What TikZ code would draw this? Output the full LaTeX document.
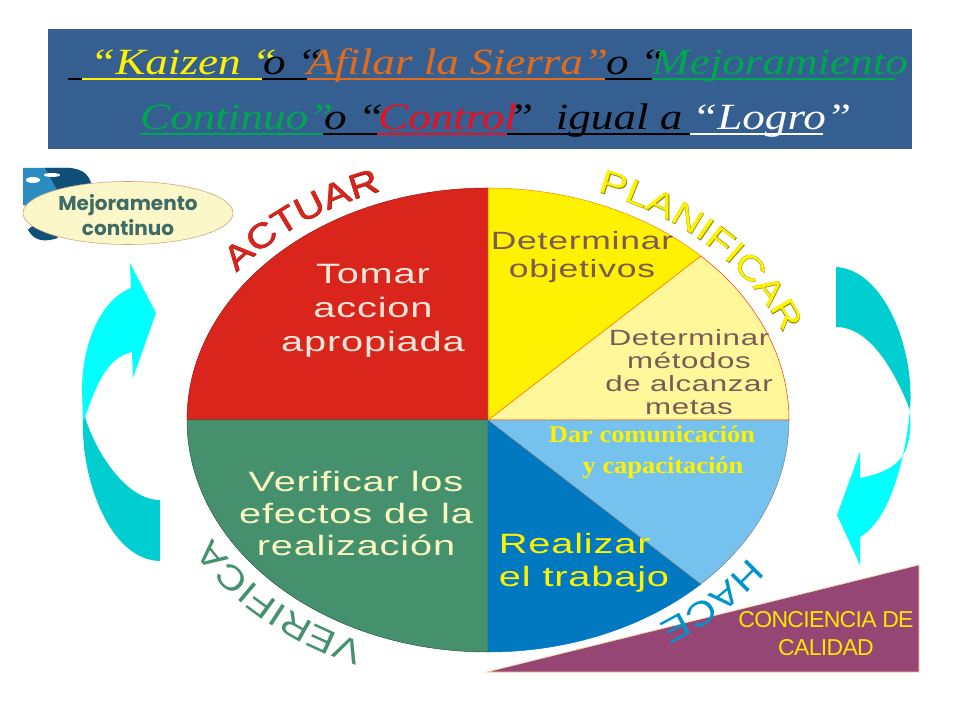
\documentclass[tikz,border=0pt]{standalone}
\usepackage{fontspec}
\usetikzlibrary{decorations.text}
\setmainfont{Liberation Sans}
\newfontfamily\widefont[FakeStretch=1.42,LetterSpace=3]{Liberation Sans}
\newfontfamily\curvefont[FakeStretch=1.2]{Liberation Sans}
\newfontfamily\curvebold[FakeStretch=1.2,FakeBold=1.2]{Liberation Sans}
\newfontfamily\titlefont[FakeStretch=1.22]{Liberation Serif}
\newfontfamily\darfont[FakeStretch=1.1]{Liberation Serif}
\newfontfamily\badgefont{Poppins}
\definecolor{titleblue}{HTML}{365F91}
\definecolor{ctgreen}{HTML}{00A650}
\definecolor{ctorange}{HTML}{E36C1A}
\definecolor{ctred}{HTML}{E8101E}
\definecolor{pierd}{HTML}{DA251C}
\definecolor{pieyl}{HTML}{FFF200}
\definecolor{pielt}{HTML}{FFF799}
\definecolor{piesky}{HTML}{75C2EE}
\definecolor{piebl}{HTML}{0079C1}
\definecolor{piegn}{HTML}{45916D}
\definecolor{txtbrown}{HTML}{7B5A58}
\definecolor{txtcream}{HTML}{F2E6D8}
\definecolor{txtpale}{HTML}{FBF7C0}
\definecolor{badgefill}{HTML}{FCF7C8}
\definecolor{badgetxt}{HTML}{3E6B66}
\definecolor{arrowcy}{HTML}{00FFFF}
\definecolor{arrowdk}{HTML}{00CED1}
\definecolor{tripurple}{HTML}{954674}
\definecolor{triyl}{HTML}{FFE600}
\definecolor{globedk}{HTML}{0F4F78}
\definecolor{globelt}{HTML}{2A8CC0}
\tikzset{
	headline/.style={font=\titlefont\itshape\fontsize{37}{37}\selectfont, anchor=base west, inner sep=0pt},
	ruleline/.style={line width=2pt},
	slice/.style={line width=0.5pt},
	pietext/.style={font=\widefont\fontsize{28}{28}\selectfont, align=center, inner sep=0pt},
	smalltext/.style={font=\widefont\fontsize{22}{22}\selectfont, text=txtbrown, inner sep=0pt},
	curved/.style={decorate, decoration={text along path, text align={fit to path}, text={#1}}},
}
\begin{document}
\begin{tikzpicture}[x=1pt,y=1pt]
	\useasboundingbox (0,0) rectangle (960,720);
	\coordinate (c) at (488,300);

	%title
	\fill[titleblue] (48,571) rectangle (912,691);
	\foreach \xa/\xb/\col in {68/82/black, 82/262/yellow, 262/307/black, 307/605/ctorange, 605/652/black, 652/895/ctgreen}{
		\draw[ruleline, \col] (\xa,641)--(\xb,641);
	}
	\foreach \xa/\xb/\col in {140/323/ctgreen, 323/377/black, 377/507/ctred, 507/690/black, 690/823/white}{
		\draw[ruleline, \col] (\xa,586)--(\xb,586);
	}
	\node[headline, text=yellow] (kaizen) at (90,645) {“Kaizen “};
	\node[headline, text=black] (ola) at (263,645) {o “};
	\node[headline, text=ctorange] (afilar) at (307,645) {Afilar la Sierra”};
	\node[headline, text=black] (olb) at (606,645) {o “};
	\node[headline, text=ctgreen] (mejora) at (652,645) {Mejoramiento};
	\node[headline, text=ctgreen] (contin) at (140,590) {Continuo”};
	\node[headline, text=black] (olc) at (324,590) {o “};
	\node[headline, text=ctred] (control) at (378,590) {Control};
	\node[headline, text=black] (igual) at (508,590) {”\ \ igual a};
	\node[headline, text=white] (logro) at (692,590) {“Logro”};

	%triangle
	\filldraw[fill=tripurple, draw=orange!40, line width=0.6pt] (487,48) -- (919,155) -- (919,48) -- cycle;
	\node[text=triyl, align=center, font=\fontsize{23}{28}\selectfont, inner sep=0pt] (calidad) at (826,86) {\addfontfeature{LetterSpace=-3}CONCIENCIA DE\\\addfontfeature{LetterSpace=-3}CALIDAD};

	%pie
	\filldraw[slice, fill=pierd, draw=pierd!70!black] (c) -- ++(90:301 and 232) arc[start angle=90, end angle=180, x radius=301, y radius=232] -- cycle;
	\filldraw[slice, fill=piegn, draw=piegn!60!black] (c) -- ++(180:301 and 232) arc[start angle=180, end angle=270, x radius=301, y radius=232] -- cycle;
	\filldraw[slice, fill=piebl, draw=piebl] (c) -- ++(270:301 and 232) arc[start angle=270, end angle=315, x radius=301, y radius=232] -- cycle;
	\filldraw[slice, fill=piesky, draw=gray] (c) -- ++(315:301 and 232) arc[start angle=315, end angle=360, x radius=301, y radius=232] -- cycle;
	\filldraw[slice, fill=pielt, draw=red!60!orange] (c) -- ++(0:301 and 232) arc[start angle=0, end angle=45, x radius=301, y radius=232] -- cycle;
	\filldraw[slice, fill=pieyl, draw=orange] (c) -- ++(45:301 and 232) arc[start angle=45, end angle=90, x radius=301, y radius=232] -- cycle;

	\node[pietext, text=txtcream] (tomar) at (373,409) {Tomar\\[6pt]accion\\[6pt]apropiada};
	\node[pietext, text=txtpale] (verif) at (356,207) {Verificar los\\[4pt]efectos de la\\[4pt]realización};
	\node[pietext, text=pieyl, align=left] (realizar) at (584,157) {Realizar\\[5pt]el trabajo};
	\node[smalltext, font=\widefont\fontsize{25}{25}\selectfont, align=center] (objet) at (582,463) {Determinar\\[3pt]objetivos};
	\node[smalltext, align=center] (metodos) at (689,348) {Determinar\\[1pt]métodos\\[1pt]de alcanzar\\[1pt]metas};
	\node[text=pieyl, align=center, inner sep=0pt, font=\darfont\bfseries\fontsize{24}{31}\selectfont] (dar) at (652,268) {Dar comunicación\\\hspace*{22pt}y capacitación};

	%curved labels
	\path[curved={|\curvebold\fontsize{34}{34}\selectfont\color{pierd!75!black}|ACTUAR}] (c) ++(142.7:316 and 243) arc[start angle=142.7, end angle=110, x radius=316, y radius=243];
	\path[curved={|\curvefont\fontsize{34}{34}\selectfont\color{pierd}|ACTUAR}] (c) ++(142.7:316 and 243) arc[start angle=142.7, end angle=110, x radius=316, y radius=243];
	\path[curved={|\curvebold\fontsize{34}{34}\selectfont\color{olive}|PLANIFICAR}] (c) ++(69.7:316 and 243) arc[start angle=69.7, end angle=22.8, x radius=316, y radius=243];
	\path[curved={|\curvefont\fontsize{34}{34}\selectfont\color{yellow}|PLANIFICAR}] (c) ++(69.7:316 and 243) arc[start angle=69.7, end angle=22.8, x radius=316, y radius=243];
	\path[curved={|\curvefont\fontsize{34}{34}\selectfont\color{piebl!80!cyan}|HACER}] (c) ++(-34.4:316 and 243) arc[start angle=-34.4, end angle=-58, x radius=316, y radius=243];
	\path[curved={|\curvefont\fontsize{34}{34}\selectfont\color{piegn}|VERIFICAR}] (c) ++(247:316 and 243) arc[start angle=247, end angle=209, x radius=316, y radius=243];

	%left arrow
	\fill[arrowdk] (83,300) .. controls (81,240) and (110,160) .. (160,159) -- (160,220) .. controls (125,220) and (95,270) .. (85,303) -- cycle;
	\fill[arrowcy] (85,303) .. controls (95,330) and (105,362) .. (132,368) -- (133,342) -- (156,407) -- (130,457) -- (131,432) .. controls (100,420) and (82,375) .. (82,330) -- (83,300) -- cycle;

	%right arrow
	\fill[arrowdk] (836,453) .. controls (885,450) and (915,370) .. (910,310) .. controls (900,335) and (875,393) .. (836,393) -- cycle;
	\fill[arrowcy] (910,310) .. controls (913,265) and (900,250) .. (860,242) -- (860,268) -- (837,205) -- (860,155) -- (860,183) .. controls (890,200) and (905,260) .. (910,310) -- cycle;

	%globe and badge
	\fill[globelt] (23,552) -- (23,515) .. controls (40,510) and (60,515) .. (92,535) .. controls (88,545) and (85,550) .. (70,552) -- cycle;
	\fill[globedk] (45,552) -- (70,552) .. controls (85,550) and (88,545) .. (92,535) -- (60,525) -- cycle;
	\fill[white] (33,540) ellipse (7 and 3);
	\fill[white] (52,545) ellipse (8 and 2);
	\fill[globedk] (28,490) .. controls (35,478) and (45,478) .. (58,482) .. controls (50,495) and (35,500) .. (28,490) -- cycle;
	\filldraw[fill=badgefill, draw=brown!70, line width=0.6pt] (128,507) ellipse (105 and 31.5);
	\node[text=badgetxt, align=center, inner sep=0pt, font=\badgefont\bfseries\fontsize{20}{25}\selectfont] (mejorabadge) at (128,505) {Mejoramento\\continuo};
\end{tikzpicture}
\end{document}
